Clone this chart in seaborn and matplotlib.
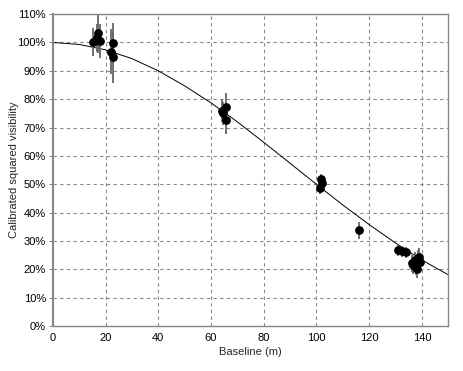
import numpy as np
import pandas as pd
import matplotlib
matplotlib.use("Agg")
import matplotlib.pyplot as plt
import seaborn as sns
from matplotlib.ticker import PercentFormatter

# measured points (baseline m, V^2 %, error %)
baseline = [15.2, 17.1, 17.9, 16.7, 22.7, 21.9, 22.9,
            64.1, 64.7, 65.6, 65.7,
            101.7, 102.0, 101.4,
            116.2,
            130.8, 132.4, 134.1, 136.2, 137.5, 138.4, 139.1, 137.9, 138.1, 139.4, 136.8]
vis2 = [100.1, 103.3, 100.5, 101.5, 99.7, 96.8, 94.7,
        75.9, 75.0, 77.3, 72.6,
        51.7, 50.3, 48.6,
        33.8,
        26.8, 26.4, 26.0, 22.1, 23.3, 23.9, 24.4, 20.9, 20.0, 22.7, 21.5]
err = [5, 7, 6, 5, 7, 8, 9,
       4, 4, 5, 5,
       2, 2, 2,
       3,
       2, 2, 2, 3, 3, 3, 3, 3, 3, 3, 3]

# model curve
curve_b = [0, 10, 20, 30, 40, 50, 60, 70, 80, 90, 100, 110, 120, 130, 140, 150]
curve_v = [100.0, 99.3, 97.4, 94.3, 90.0, 84.7, 78.7, 72.0, 64.8, 57.4,
           50.0, 42.7, 35.8, 29.3, 23.3, 18.1]

sns.set_style('whitegrid')
plt.rcParams['font.family'] = ['Liberation Sans', 'DejaVu Sans']

fig = plt.figure(figsize=(4.64, 3.71), dpi=100)
ax = fig.add_axes([0.114, 0.121, 0.852, 0.841])

df_curve = pd.DataFrame({'b': np.array(curve_b), 'v': np.array(curve_v) / 100})
df_pts = pd.DataFrame({'b': baseline, 'v': np.array(vis2) / 100, 'e': np.array(err) / 100})

sns.lineplot(data=df_curve, x='b', y='v', ax=ax, color='black', lw=0.7)
ax.errorbar(df_pts['b'], df_pts['v'], yerr=df_pts['e'], fmt='none',
            ecolor='#666666', elinewidth=1.3, capsize=0)
sns.scatterplot(data=df_pts, x='b', y='v', ax=ax, color='black', s=40,
                edgecolor='black', linewidth=0, zorder=3)

ax.set_xlim(0, 150)
ax.set_ylim(0, 1.1)
ax.set_xticks(range(0, 141, 20))
ax.set_yticks(np.arange(0, 1.11, 0.1))
ax.yaxis.set_major_formatter(PercentFormatter(1.0, decimals=0))
ax.grid(True, color='#888888', linestyle=(0, (3, 3)), linewidth=0.8)
for s in ax.spines.values():
    s.set_color('#888888')
    s.set_linewidth(1.0)
ax.spines['left'].set_linewidth(1.5)
ax.tick_params(axis='both', labelsize=8, colors='black', length=3, width=0.8, pad=2)
ax.tick_params(axis='y', left=True, color='#888888')
ax.tick_params(axis='x', bottom=False)
ax.set_xlabel('Baseline (m)', fontsize=8, labelpad=3)
ax.set_ylabel('Calibrated squared visibility', fontsize=8)
ax.yaxis.set_label_coords(-0.085, 0.5)

fig.savefig('out.png', dpi=100)
